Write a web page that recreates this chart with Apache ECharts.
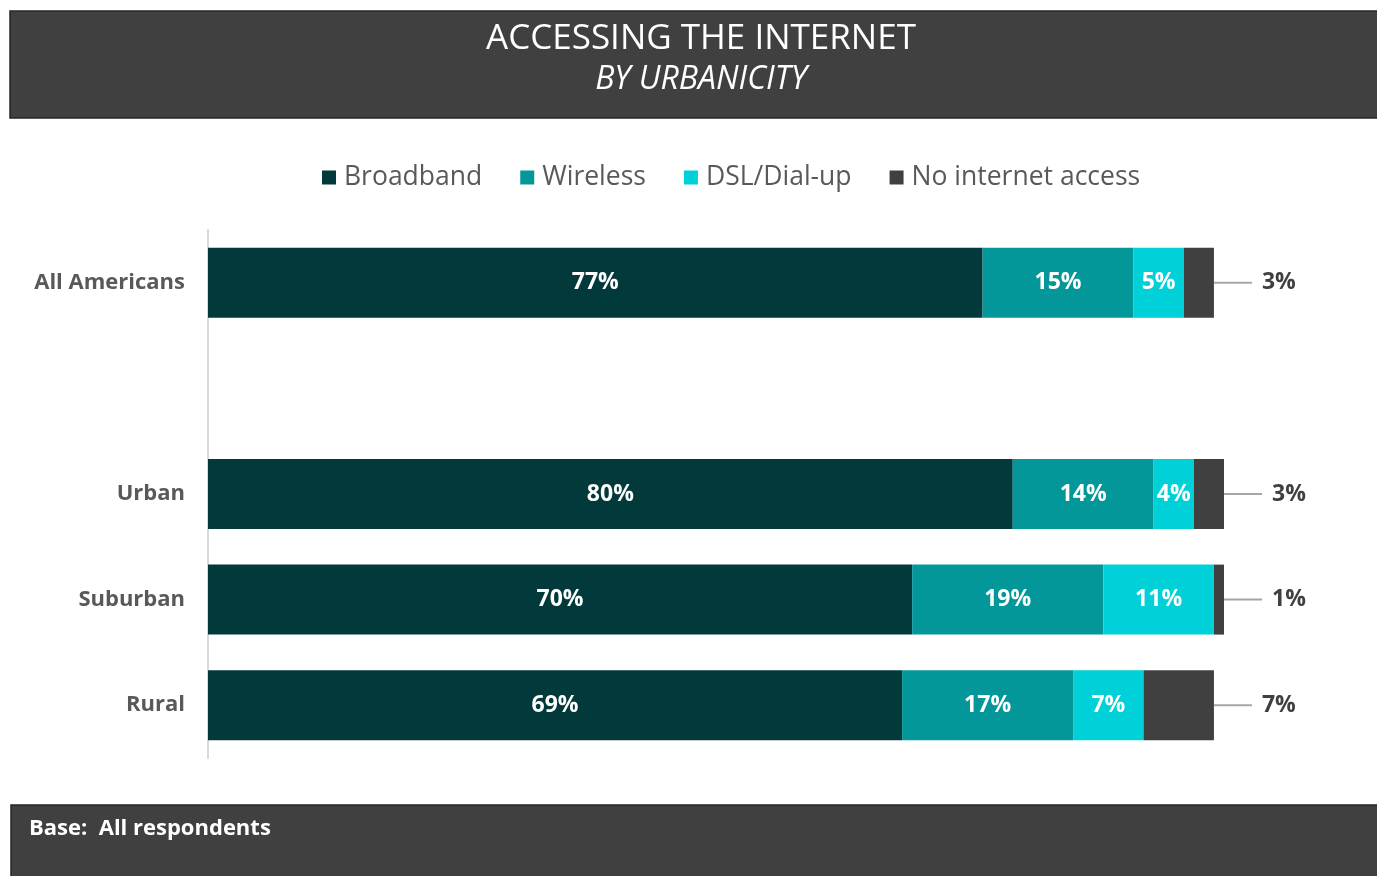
<!DOCTYPE html>
<html>
<head>
<meta charset="utf-8">
<title>Accessing the Internet by Urbanicity</title>
<script src="https://cdn.jsdelivr.net/npm/echarts@6/dist/echarts.min.js"></script>
<style>
  html, body { margin: 0; padding: 0; background: #ffffff; }
  #chart { width: 1377px; height: 876px; }
</style>
</head>
<body>
<div id="chart"></div>
<script>
// Groups (blank row separates the overall figure from the breakdown)
const categories = ['All Americans', '', 'Urban', 'Suburban', 'Rural'];

// Share of respondents by access type, in percent
const broadband  = [77, null, 80, 70, 69];
const wireless   = [15, null, 14, 19, 17];
const dslDialup  = [5,  null, 4,  11, 7];
const noInternet = [3,  null, 3,  1,  7];

const seriesNames = ['Broadband', 'Wireless', 'DSL/Dial-up', 'No internet access'];
const colors = ['#02393b', '#04979a', '#00d0d8', '#404040'];

const FONT = '"Open Sans", "Noto Sans", sans-serif';

const chart = echarts.init(document.getElementById('chart'), null, { renderer: 'canvas' });

const insideLabel = {
  show: true,
  position: 'inside',
  color: '#ffffff',
  fontFamily: FONT,
  fontWeight: 'bold',
  fontSize: 23,
  formatter: p => p.value + '%'
};

function barSeries(name, data, color, idx) {
  const s = {
    name: name,
    type: 'bar',
    stack: 'total',
    data: data,
    barWidth: 70,
    itemStyle: { color: color },
    label: insideLabel,
    emphasis: { disabled: true }
  };
  if (idx === 3) {
    // outside value label: a short grey leader rule, a gap, then the value
    s.label = {
      show: true,
      position: 'right',
      distance: 0,
      formatter: p => '{rule|}{gap|}{val|' + p.value + '%}',
      rich: {
        rule: { width: 38, height: 2, backgroundColor: '#a6a6a6' },
        gap: { width: 10 },
        val: {
          color: '#404040',
          fontFamily: FONT,
          fontWeight: 'bold',
          fontSize: 23
        }
      }
    };
  }
  return s;
}

const option = {
  backgroundColor: '#ffffff',
  animation: false,
  title: [
    {
      text: 'ACCESSING THE INTERNET',
      left: 696,
      top: 17,
      textAlign: 'center',
      textStyle: { color: '#ffffff', fontFamily: FONT, fontWeight: 500, fontSize: 35 }
    },
    {
      text: 'BY URBANICITY',
      left: 696,
      top: 59,
      textAlign: 'center',
      textStyle: { color: '#ffffff', fontFamily: FONT, fontStyle: 'italic', fontWeight: 'normal', fontSize: 32 }
    }
  ],
  graphic: [
    {
      type: 'rect',
      z: -1,
      shape: { x: 10, y: 11, width: 1370, height: 107 },
      style: { fill: '#404040', stroke: '#262626', lineWidth: 1.5 }
    },
    {
      type: 'rect',
      z: -1,
      shape: { x: 11, y: 805, width: 1370, height: 75 },
      style: { fill: '#404040', stroke: '#262626', lineWidth: 1.5 }
    },
    {
      type: 'text',
      left: 29,
      top: 818,
      style: {
        text: 'Base:  All respondents',
        fill: '#ffffff',
        font: 'bold 22px ' + FONT
      }
    }
  ],
  legend: {
    top: 159,
    left: 317,
    itemWidth: 14,
    itemHeight: 14,
    itemGap: 38,
    icon: 'rect',
    textStyle: { color: '#595959', fontFamily: FONT, fontSize: 26.5, padding: [0, 0, 0, 3] },
    data: seriesNames
  },
  grid: {
    left: 208,
    right: 153,
    top: 230,
    bottom: 118,
    containLabel: false
  },
  xAxis: {
    type: 'value',
    min: 0,
    max: 101,
    show: false
  },
  yAxis: {
    type: 'category',
    inverse: true,
    data: categories,
    axisLine: { show: true, lineStyle: { color: '#d9d9d9', width: 2 } },
    axisTick: { show: false },
    axisLabel: {
      margin: 23,
      color: '#595959',
      fontFamily: FONT,
      fontWeight: 'bold',
      fontSize: 22
    }
  },
  series: [
    barSeries(seriesNames[0], broadband, colors[0], 0),
    barSeries(seriesNames[1], wireless, colors[1], 1),
    barSeries(seriesNames[2], dslDialup, colors[2], 2),
    barSeries(seriesNames[3], noInternet, colors[3], 3)
  ]
};

chart.setOption(option);
</script>
</body>
</html>
